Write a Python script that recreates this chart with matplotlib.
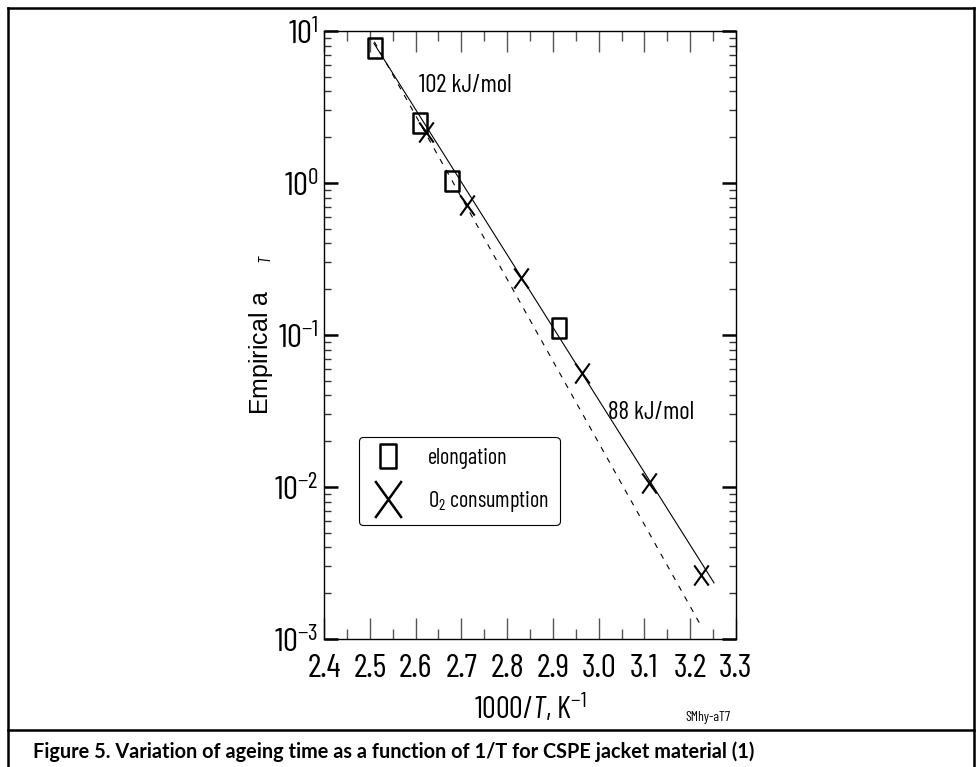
import numpy as np
import matplotlib
matplotlib.use("Agg")
import matplotlib.pyplot as plt
from matplotlib.path import Path
from matplotlib.lines import Line2D
from matplotlib.ticker import LogLocator, FixedLocator, NullFormatter

# Fuentes (estrecha, parecida a Arial Narrow)
NARROW = 'Barlow Condensed'
plt.rcParams['font.family'] = [NARROW, 'DejaVu Sans']
plt.rcParams['mathtext.fontset'] = 'custom'
plt.rcParams['mathtext.rm'] = NARROW
plt.rcParams['mathtext.it'] = NARROW + ':italic'
plt.rcParams['axes.unicode_minus'] = False

# Datos
elong_x = [2.511, 2.610, 2.680, 2.913]
elong_y = [7.7, 2.5, 1.03, 0.111]
o2_x = [2.622, 2.713, 2.830, 2.963, 3.111, 3.223]
o2_y = [2.15, 0.72, 0.236, 0.056, 0.0106, 0.00264]

# Rectas de ajuste (88 y 102 kJ/mol)
fit88_x = [2.509, 3.252]
fit88_y = [8.3, 0.00234]
fit102_x = [2.510, 3.225]
fit102_y = [8.5, 0.0012]

xticks = [2.4, 2.5, 2.6, 2.7, 2.8, 2.9, 3.0, 3.1, 3.2, 3.3]
xtick_labels = ['2.4', '2.5', '2.6', '2.7', '2.8', '2.9', '3.0', '3.1', '3.2', '3.3']
xminor = [2.45, 2.55, 2.65, 2.75, 2.85, 2.95, 3.05, 3.15, 3.25]
yticks = [1e-3, 1e-2, 1e-1, 1e0, 1e1]
ytick_labels = ['$10^{-3}$', '$10^{-2}$', '$10^{-1}$', '$10^{0}$', '$10^{1}$']

# Marcadores rectangulares (mas altos que anchos)
w = 0.36
rect = Path([(-w, -0.5), (w, -0.5), (w, 0.5), (-w, 0.5), (-w, -0.5)],
            [Path.MOVETO, Path.LINETO, Path.LINETO, Path.LINETO, Path.CLOSEPOLY])
cross = Path([(-w, -0.5), (w, 0.5), (-w, 0.5), (w, -0.5)],
             [Path.MOVETO, Path.LINETO, Path.MOVETO, Path.LINETO])

fig = plt.figure(figsize=(9.78, 7.67), dpi=100)
ax = fig.add_axes([324/978, 1-639/767, 412/978, 608/767])

ax.plot(fit88_x, fit88_y, color='black', lw=0.8)
ax.plot(fit102_x, fit102_y, color='black', lw=0.8, dashes=(5, 6))
ax.plot(elong_x, elong_y, linestyle='none', marker=rect, markersize=14.5,
        markerfacecolor='none', markeredgecolor='black', markeredgewidth=1.8)
ax.plot(o2_x, o2_y, linestyle='none', marker=cross, markersize=14.5,
        markeredgecolor='black', markeredgewidth=1.5)

ax.set_yscale('log')
ax.set_xlim(2.4, 3.3)
ax.set_ylim(1e-3, 10)

ax.xaxis.set_major_locator(FixedLocator(xticks))
ax.set_xticklabels(xtick_labels)
ax.xaxis.set_minor_locator(FixedLocator(xminor))
ax.yaxis.set_major_locator(FixedLocator(yticks))
ax.set_yticklabels(ytick_labels)
ax.yaxis.set_minor_locator(LogLocator(base=10, subs=np.arange(2, 10), numticks=10))
ax.yaxis.set_minor_formatter(NullFormatter())

ax.tick_params(axis='x', which='both', direction='in', top=True, bottom=True,
               color='#555555', width=1, labelsize=24, pad=11)
ax.tick_params(axis='x', which='major', length=15)
ax.tick_params(axis='x', which='minor', length=7.5)
ax.tick_params(axis='y', which='both', direction='in', left=True, right=True,
               labelsize=24, pad=4)
ax.tick_params(axis='y', which='major', length=10, width=1.8, color='black')
ax.tick_params(axis='y', which='minor', length=5, width=1, color='#333333')
for s in ax.spines.values():
    s.set_linewidth(1)

ax.set_xlabel('1000/$T$, K$^{-1}$', fontsize=22, labelpad=6)
fig.text(261/978, 1-334/767, 'Empirical a    $_{T}$', rotation=90,
         ha='center', va='center', fontsize=18, family=['Liberation Sans', 'DejaVu Sans'])

ax.text(2.708, 4.4, '102 kJ/mol', ha='center', va='center', fontsize=18)
ax.text(3.114, 0.0311, '88 kJ/mol', ha='center', va='center', fontsize=18)
fig.text(708/978, 1-717/767, 'SMhy-aT7', ha='center', va='center', fontsize=10)

# Leyenda
h1 = Line2D([], [], linestyle='none', marker=rect, markersize=16.6,
            markerfacecolor='none', markeredgecolor='black', markeredgewidth=1.8)
h2 = Line2D([], [], linestyle='none', marker=cross, markersize=26.6,
            markeredgecolor='black', markeredgewidth=1.8)
leg = ax.legend([h1, h2], ['elongation', 'O$_2$ consumption'], fontsize=16,
                loc='upper left', bbox_to_anchor=(359/978, 1-437/767),
                bbox_transform=fig.transFigure, borderaxespad=0,
                fancybox=True, framealpha=1, edgecolor='black',
                handlelength=1.6, handletextpad=1.0, labelspacing=0.9,
                borderpad=0.5)
leg.get_frame().set_linewidth(0.8)

# Marco de la figura y pie
for xs, ys in [([8, 974], [8, 8]), ([8, 8], [8, 767]), ([974, 974], [8, 767]),
               ([8, 974], [730, 730])]:
    fig.add_artist(Line2D([x/978 for x in xs], [1-y/767 for y in ys],
                          color='black', lw=1.8, transform=fig.transFigure))
fig.text(33/978, 1-752/767,
         'Figure 5. Variation of ageing time as a function of 1/T for CSPE jacket material (1)',
         ha='left', va='center', fontsize=14.3, fontweight='bold',
         family=['Lato', 'DejaVu Sans'])

fig.savefig('out.png', dpi=100)
